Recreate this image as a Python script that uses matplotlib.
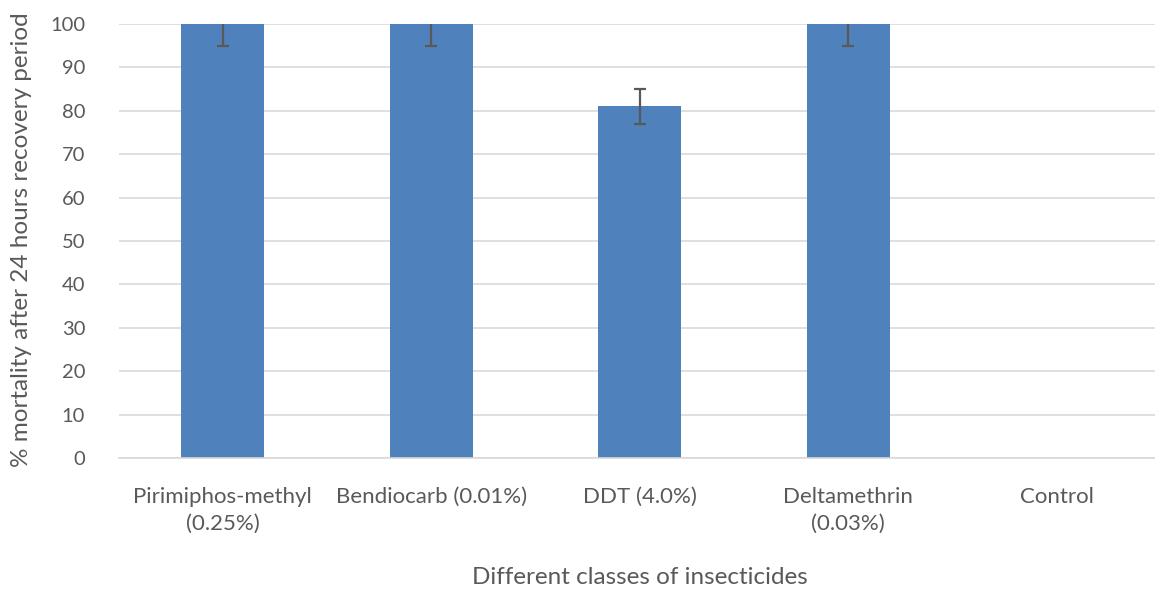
import matplotlib.pyplot as plt

plt.rcParams['font.family'] = ['Lato', 'DejaVu Sans']

# data
categories = ['Pirimiphos-methyl\n(0.25%)', 'Bendiocarb (0.01%)', 'DDT (4.0%)',
              'Deltamethrin\n(0.03%)', 'Control']
mortality = [100, 100, 81, 100, 0]
errors = [5, 5, 4, 5, 0]

BAR_COLOR = '#4f81bd'
TEXT_COLOR = '#595959'
GRID_COLOR = '#d9d9d9'

fig = plt.figure(figsize=(11.55, 5.89), dpi=100)
ax = fig.add_axes([118.5 / 1155, 1 - 458 / 589, 1042.5 / 1155, 434 / 589])

x = range(len(categories))
ax.bar(x, mortality, width=0.4, color=BAR_COLOR, zorder=2)
ax.errorbar([i for i, e in zip(x, errors) if e > 0],
            [m for m, e in zip(mortality, errors) if e > 0],
            yerr=[e for e in errors if e > 0], fmt='none',
            ecolor=TEXT_COLOR, elinewidth=1.6, capsize=4.5, capthick=1.6, zorder=3)

ax.set_xlim(-0.5, 4.5)
ax.set_ylim(0, 100)
ax.set_yticks(range(0, 101, 10))
ax.set_xticks(list(x))
ax.set_xticklabels(categories, fontsize=16, color=TEXT_COLOR, linespacing=1.4)
ax.tick_params(axis='y', labelsize=14.5, labelcolor=TEXT_COLOR, length=0, pad=24)
ax.tick_params(axis='x', length=0, pad=21)

ax.grid(axis='y', color=GRID_COLOR, linewidth=1.2, zorder=0)
ax.set_axisbelow(True)
for s in ['top', 'right', 'left']:
    ax.spines[s].set_visible(False)
ax.spines['bottom'].set_color(GRID_COLOR)
ax.spines['bottom'].set_linewidth(1.2)

fig.text(22 / 1155, 1 - 240 / 589, '% mortality after 24 hours recovery period',
         fontsize=17.5, color=TEXT_COLOR, rotation=90, ha='center', va='center')
fig.text(640 / 1155, 1 - 577 / 589, 'Different classes of insecticides', fontsize=17.5,
         color=TEXT_COLOR, ha='center', va='center')

fig.savefig('out.png', dpi=100)
